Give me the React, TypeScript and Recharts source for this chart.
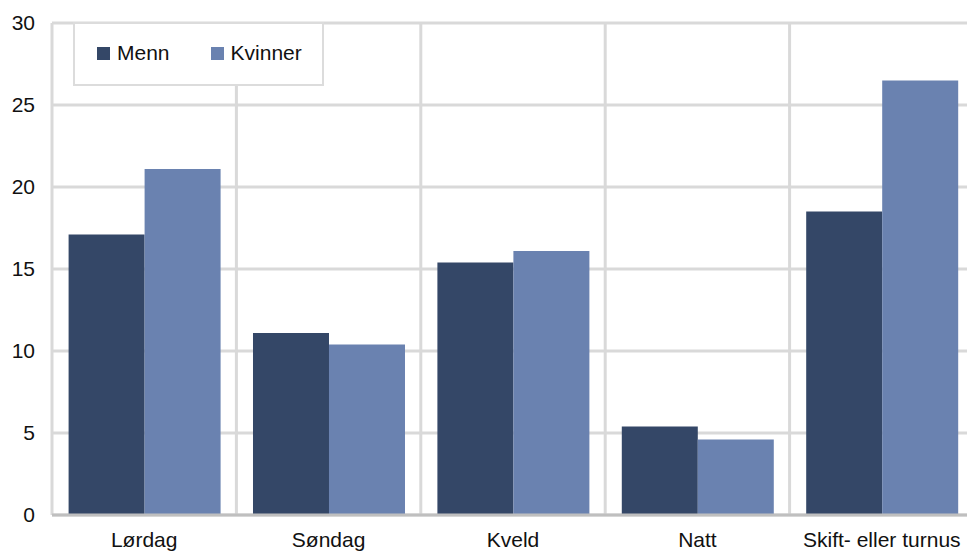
import React from 'react';
import { BarChart, Bar, XAxis, YAxis, CartesianGrid } from 'recharts';

const categories = ['Lørdag', 'Søndag', 'Kveld', 'Natt', 'Skift- eller turnus'];
const menn = [17.1, 11.1, 15.4, 5.4, 18.5];
const kvinner = [21.1, 10.4, 16.1, 4.6, 26.5];
const yTicks = [0, 5, 10, 15, 20, 25, 30];

const MENN_COLOR = '#344767';
const KVINNER_COLOR = '#6a82b0';
const GRID = '#d9d9d9';
const FONT = '"Liberation Sans", Arial, sans-serif';
const FONT_SIZE = 21;

const series = [
  { key: 'Menn', color: MENN_COLOR },
  { key: 'Kvinner', color: KVINNER_COLOR },
];

const data = categories.map((c, i) => ({ name: c, Menn: menn[i], Kvinner: kvinner[i] }));

// legend box sits on top of the plot, like the original
const LegendBox = () => (
  <div
    style={{
      position: 'absolute',
      top: 22,
      left: 73,
      width: 251,
      height: 64,
      boxSizing: 'border-box',
      background: '#fff',
      border: '2px solid #dcdcdc',
      display: 'flex',
      alignItems: 'flex-start',
      paddingLeft: 22,
      paddingTop: 17,
      fontFamily: FONT,
      fontSize: FONT_SIZE,
      lineHeight: '24px',
      color: '#111',
    }}
  >
    {series.map(s => (
      <div key={s.key} style={{ display: 'flex', alignItems: 'center', marginRight: 41 }}>
        <span style={{ display: 'inline-block', width: 13, height: 13, background: s.color, marginRight: 7 }} />
        <span>{s.key}</span>
      </div>
    ))}
  </div>
);

export default function App() {
  return (
    <div style={{ position: 'absolute', top: 0, left: 0, width: 967, height: 551, overflow: 'hidden', background: '#fff' }}>
      <BarChart
        width={980}
        height={551}
        data={data}
        margin={{ top: 23, right: 6, bottom: 0, left: 0 }}
        barCategoryGap="9%"
        barGap={0}
      >
        <CartesianGrid
          stroke={GRID}
          strokeWidth={3}
          verticalCoordinatesGenerator={({ offset }: any) =>
            [0, ...categories.map((_, i) => i + 1)].map(i => offset.left + (i * offset.width) / categories.length)
          }
        />
        <XAxis
          dataKey="name"
          height={36}
          tickLine={false}
          tickSize={10}
          tickMargin={7}
          axisLine={{ stroke: '#bfbfbf', strokeWidth: 3 }}
          tick={{ fill: '#111', fontSize: FONT_SIZE, fontFamily: FONT }}
          interval={0}
        />
        <YAxis
          width={52}
          domain={[0, 30]}
          ticks={yTicks}
          axisLine={false}
          tickLine={false}
          tickSize={10}
          tickMargin={7}
          tick={{ fill: '#111', fontSize: FONT_SIZE, fontFamily: FONT }}
        />
        {series.map(s => (
          <Bar key={s.key} dataKey={s.key} fill={s.color} isAnimationActive={false} />
        ))}
      </BarChart>
      <LegendBox />
    </div>
  );
}
